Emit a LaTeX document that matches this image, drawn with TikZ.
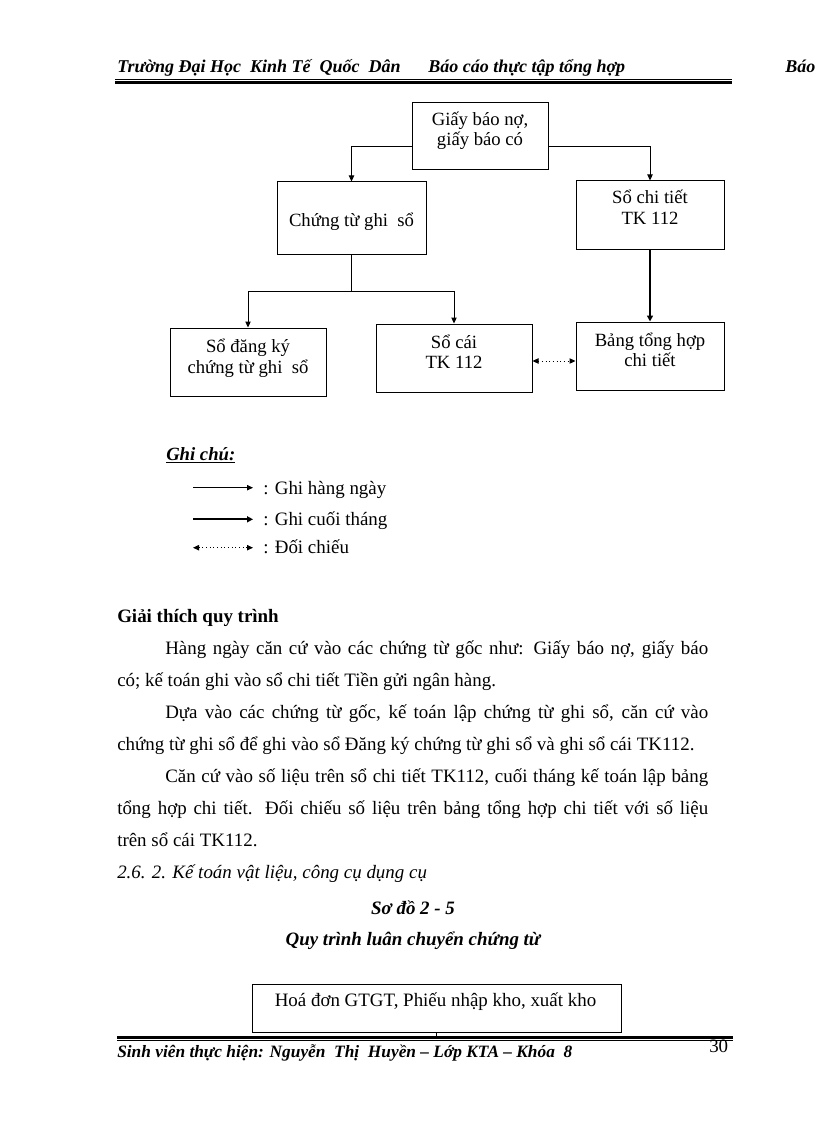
\documentclass[tikz,border=0pt]{standalone}
\usepackage{fontspec}
\setmainfont{Liberation Serif}
\usetikzlibrary{arrows.meta}
\begin{document}
\begin{tikzpicture}[x=0.75pt,y=-0.75pt,
  box/.style={draw, line width=0.75pt, inner sep=0pt},
  txt/.style={inner sep=0pt, anchor=base, font=\fontsize{14pt}{16pt}\selectfont},
  ltxt/.style={inner sep=0pt, anchor=base west, font=\fontsize{14.2pt}{16pt}\selectfont},
  hdr/.style={inner sep=0pt, anchor=base west, font=\fontsize{13.5pt}{16pt}\selectfont\bfseries\itshape},
  arr/.style={line width=0.75pt, -{Triangle[length=4.5pt,width=4pt]}},
  thickarr/.style={line width=1.6pt, -{Triangle[length=4.5pt,width=4.5pt]}},
  dotarr/.style={line width=0.75pt, dotted, {Triangle[length=4.5pt,width=4pt]}-{Triangle[length=4.5pt,width=4pt]}}
]
\useasboundingbox (0,0) rectangle (816,1123);
\fill[white] (0,0) rectangle (816,1123);

% ---------- header ----------
\node[hdr] (h1) at (117,73) {Trường Đại Học\ \ Kinh Tế\ \ Quốc\ \ Dân};
\node[hdr] (h2) at (428,73) {Báo cáo thực tập tổng hợp};
\node[hdr] (h3) at (785,73) {Báo};
\coordinate (hl1) at (115,79.8);
\coordinate (hr1) at (732,79.8);
\coordinate (hl2) at (115,82.8);
\coordinate (hr2) at (732,82.8);
\draw[line width=0.75pt] (hl1) -- (hr1);
\draw[line width=2.25pt] (hl2) -- (hr2);

% ---------- diagram boxes ----------
\node[box, minimum width=102pt, minimum height=50.25pt] (top) at (480,136.5) {};
\node[box, minimum width=111.75pt, minimum height=54pt] (ctgs) at (351.5,218) {};
\node[box, minimum width=111pt, minimum height=51pt] (sct) at (650,215) {};
\node[box, minimum width=117pt, minimum height=51pt] (sdk) at (248,362) {};
\node[box, minimum width=117pt, minimum height=51pt] (sc) at (454,358) {};
\node[box, minimum width=111pt, minimum height=51pt] (bth) at (650,356) {};

\node[txt] (ttop1) at (480,126) {Giấy báo nợ,};
\node[txt] (ttop2) at (480,146) {giấy báo có};
\node[txt] (tctgs) at (351.5,227) {Chứng từ ghi\ \ sổ};
\node[txt] (tsct1) at (650,204) {Sổ chi tiết};
\node[txt] (tsct2) at (650,224) {TK 112};
\node[txt] (tsdk1) at (248,352) {Sổ đăng ký};
\node[txt] (tsdk2) at (248,373) {chứng từ ghi\ \ sổ};
\node[txt] (tsc1) at (454,348) {Sổ cái};
\node[txt] (tsc2) at (454,368) {TK 112};
\node[txt] (tbth1) at (650,346) {Bảng tổng hợp};
\node[txt] (tbth2) at (650,366) {chi tiết};

% ---------- connectors ----------
\coordinate (ya) at (0,147);
\coordinate (br) at (351.5,291);
\coordinate (yd) at (0,361);
\draw[arr] (top.west |- ya) -| (ctgs.north);
\draw[arr] (top.east |- ya) -| (sct.north);
\draw[line width=0.75pt] (ctgs.south) -- (br);
\draw[arr] (br) -| (sdk.north);
\draw[arr] (br) -| (sc.north);
\draw[thickarr] (sct.south) -- (bth.north);
\draw[dotarr] (sc.east |- yd) -- (bth.west |- yd);

% ---------- legend ----------
\node[ltxt, font=\fontsize{14pt}{16pt}\selectfont\bfseries\itshape] (gc) at (166,460) {\underline{Ghi chú:}};
\coordinate (l1a) at (193,487.7);
\coordinate (l1b) at (253,487.7);
\coordinate (l2a) at (193,519.3);
\coordinate (l2b) at (253,519.3);
\coordinate (l3a) at (193,547.7);
\coordinate (l3b) at (253,547.7);
\draw[arr] (l1a) -- (l1b);
\draw[thickarr, line width=1.4pt] (l2a) -- (l2b);
\draw[dotarr] (l3a) -- (l3b);
\node[ltxt] (lg1) at (263,494) {: Ghi hàng ngày};
\node[ltxt] (lg2) at (263,525) {: Ghi cuối tháng};
\node[ltxt] (lg3) at (263,553) {: Đối chiếu};

% ---------- explanation ----------
\node[ltxt, font=\fontsize{14.2pt}{16pt}\selectfont\bfseries] (gt) at (117,622) {Giải thích quy trình};
\node[ltxt] (p1) at (165,654.5) {\makebox[407.25pt][s]{Hàng ngày căn cứ vào các chứng từ gốc như: Giấy báo nợ, giấy báo}};
\node[ltxt] (p2) at (117,686) {có; kế toán ghi vào sổ chi tiết Tiền gửi ngân hàng.};
\node[ltxt] (p3) at (165,718) {\makebox[407.25pt][s]{Dựa vào các chứng từ gốc, kế toán lập chứng từ ghi sổ, căn cứ vào}};
\node[ltxt] (p4) at (117,750) {chứng từ ghi sổ để ghi vào sổ Đăng ký chứng từ ghi sổ và ghi sổ cái TK112.};
\node[ltxt] (p5) at (165,782) {\makebox[407.25pt][s]{Căn cứ vào số liệu trên sổ chi tiết TK112, cuối tháng kế toán lập bảng}};
\node[ltxt] (p6) at (117,814) {\makebox[443.25pt][s]{tổng hợp chi tiết. Đối chiếu số liệu trên bảng tổng hợp chi tiết với số liệu}};
\node[ltxt] (p7) at (117,846) {trên sổ cái TK112.};
\node[ltxt, font=\fontsize{14.2pt}{16pt}\selectfont\itshape] (sec) at (117,878) {2.6. 2. Kế toán vật liệu, công cụ dụng cụ};

\node[txt, font=\fontsize{14.2pt}{16pt}\selectfont\bfseries\itshape] (sd) at (413,914) {Sơ đồ 2 - 5};
\node[txt, font=\fontsize{14.2pt}{16pt}\selectfont\bfseries\itshape] (qt) at (413,945) {Quy trình luân chuyển chứng từ};

\node[box, minimum width=276.75pt, minimum height=36pt] (hd) at (436.5,1008) {};
\node[txt, font=\fontsize{14.2pt}{16pt}\selectfont] (thd) at (435.5,1006.7) {Hoá đơn GTGT, Phiếu nhập kho, xuất kho};
\coordinate (hdstub) at (436.5,1036);
\draw[line width=0.75pt] (hd.south) -- (hdstub);

% ---------- footer ----------
\coordinate (fl1) at (117,1037.3);
\coordinate (fr1) at (733,1037.3);
\coordinate (fl2) at (117,1040.8);
\coordinate (fr2) at (733,1040.8);
\draw[line width=2.25pt] (fl1) -- (fr1);
\draw[line width=0.75pt] (fl2) -- (fr2);
\node[hdr, font=\fontsize{13pt}{16pt}\selectfont\bfseries\itshape] (ft) at (117,1057) {Sinh viên thực hiện: Nguyễn\ \ Thị\ \ Huyền – Lớp KTA – Khóa\ \ 8};
\node[ltxt] (pg) at (709,1052) {30};
\end{tikzpicture}
\end{document}
